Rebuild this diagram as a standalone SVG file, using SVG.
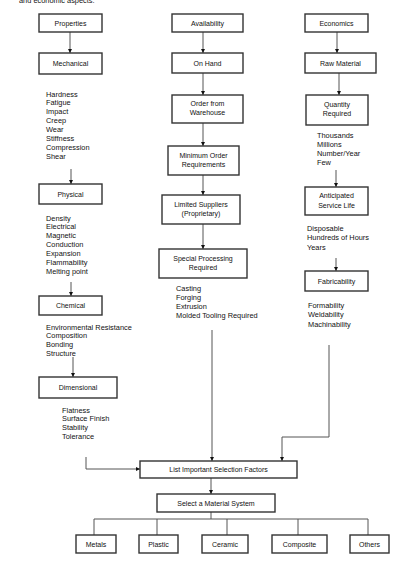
<svg xmlns="http://www.w3.org/2000/svg" width="406" height="562" viewBox="0 0 406 562">
<style>
.b{fill:#fff;stroke:#333;stroke-width:1.4}
.t{font-family:"Liberation Sans",Arial,sans-serif;font-size:7px;fill:#111;text-anchor:middle}
.l{font-family:"Liberation Sans",Arial,sans-serif;font-size:7.4px;fill:#111}
.c{fill:none;stroke:#555;stroke-width:1}
</style>
<defs>
<marker id="a" viewBox="0 0 6 6" refX="6" refY="3" markerWidth="4" markerHeight="4" orient="auto" markerUnits="userSpaceOnUse">
<path d="M0,0L6,3L0,6z" fill="#111"/>
</marker>
</defs>
<rect width="406" height="562" fill="#fff"/>
<text x="19" y="2.5" class="l" font-size="8">and economic aspects.</text>

<g id="connectors">
<path class="c" d="M70,32V53" marker-end="url(#a)"/>
<path class="c" d="M71,169V184" marker-end="url(#a)"/>
<path class="c" d="M71,282V296" marker-end="url(#a)"/>
<path class="c" d="M73,357V377" marker-end="url(#a)"/>
<path class="c" d="M203,32V53" marker-end="url(#a)"/>
<path class="c" d="M203,73V95" marker-end="url(#a)"/>
<path class="c" d="M203,123V146" marker-end="url(#a)"/>
<path class="c" d="M203,175V195" marker-end="url(#a)"/>
<path class="c" d="M203,224V249" marker-end="url(#a)"/>
<path class="c" d="M337,32V53" marker-end="url(#a)"/>
<path class="c" d="M339,73V95" marker-end="url(#a)"/>
<path class="c" d="M336,170V187" marker-end="url(#a)"/>
<path class="c" d="M336,258V271" marker-end="url(#a)"/>
<path class="c" d="M86,457V469H140" marker-end="url(#a)"/>
<path class="c" d="M212,330V461" marker-end="url(#a)"/>
<path class="c" d="M329,345V437H282V461" marker-end="url(#a)"/>
<path class="c" d="M211,478V494" marker-end="url(#a)"/>
<path class="c" d="M211,512V519M94,535V519H368V535M157,519V535M227,519V535M298,519V535"/>
</g>

<g id="properties"><rect class="b" x="39" y="14" width="63" height="18"/><text class="t" x="70.5" y="25.5">Properties</text></g>
<g id="mechanical"><rect class="b" x="39" y="53" width="63" height="21"/><text class="t" x="70.5" y="66">Mechanical</text></g>
<text class="l" x="46"><tspan x="46" y="96.5">Hardness</tspan><tspan x="46" y="105.4">Fatigue</tspan><tspan x="46" y="114.3">Impact</tspan><tspan x="46" y="123.2">Creep</tspan><tspan x="46" y="132.1">Wear</tspan><tspan x="46" y="141">Stiffness</tspan><tspan x="46" y="149.9">Compression</tspan><tspan x="46" y="158.8">Shear</tspan></text>
<g id="physical"><rect class="b" x="39" y="184" width="63" height="20"/><text class="t" x="70.5" y="196.5">Physical</text></g>
<text class="l"><tspan x="46" y="220.5">Density</tspan><tspan x="46" y="229.4">Electrical</tspan><tspan x="46" y="238.2">Magnetic</tspan><tspan x="46" y="247.1">Conduction</tspan><tspan x="46" y="255.9">Expansion</tspan><tspan x="46" y="264.8">Flammability</tspan><tspan x="46" y="273.6">Melting point</tspan></text>
<g id="chemical"><rect class="b" x="39" y="296" width="63" height="19"/><text class="t" x="70.5" y="308">Chemical</text></g>
<text class="l"><tspan x="46" y="329.5">Environmental Resistance</tspan><tspan x="46" y="338.2">Composition</tspan><tspan x="46" y="346.9">Bonding</tspan><tspan x="46" y="355.6">Structure</tspan></text>
<g id="dimensional"><rect class="b" x="39" y="377" width="78" height="21"/><text class="t" x="78" y="390">Dimensional</text></g>
<text class="l"><tspan x="62" y="412.5">Flatness</tspan><tspan x="62" y="421.2">Surface Finish</tspan><tspan x="62" y="429.9">Stability</tspan><tspan x="62" y="438.6">Tolerance</tspan></text>

<g id="availability"><rect class="b" x="172" y="14" width="71" height="18"/><text class="t" x="207.5" y="25.5">Availability</text></g>
<g id="onhand"><rect class="b" x="172" y="53" width="71" height="20"/><text class="t" x="207.5" y="65.5">On Hand</text></g>
<g id="warehouse"><rect class="b" x="172" y="95" width="71" height="28"/><text class="t" x="207.5" y="106">Order from</text><text class="t" x="207.5" y="115">Warehouse</text></g>
<g id="minorder"><rect class="b" x="168" y="146" width="71" height="29"/><text class="t" x="203.5" y="157.5">Minimum Order</text><text class="t" x="203.5" y="166.5">Requirements</text></g>
<g id="limited"><rect class="b" x="162" y="195" width="78" height="29"/><text class="t" x="201" y="206.5">Limited Suppliers</text><text class="t" x="201" y="215.5">(Proprietary)</text></g>
<g id="special"><rect class="b" x="159" y="249" width="88" height="29"/><text class="t" x="203" y="260.5">Special Processing</text><text class="t" x="203" y="269.5">Required</text></g>
<text class="l"><tspan x="176" y="290.5">Casting</tspan><tspan x="176" y="299.5">Forging</tspan><tspan x="176" y="308.5">Extrusion</tspan><tspan x="176" y="317.5">Molded Tooling Required</tspan></text>

<g id="economics"><rect class="b" x="305" y="14" width="63" height="18"/><text class="t" x="336.5" y="25.5">Economics</text></g>
<g id="rawmaterial"><rect class="b" x="305" y="53" width="71" height="20"/><text class="t" x="340.5" y="65.5">Raw Material</text></g>
<g id="quantity"><rect class="b" x="306" y="95" width="62" height="30"/><text class="t" x="337" y="106.5">Quantity</text><text class="t" x="337" y="115.5">Required</text></g>
<text class="l"><tspan x="317" y="137.5">Thousands</tspan><tspan x="317" y="146.8">Millions</tspan><tspan x="317" y="156.1">Number/Year</tspan><tspan x="317" y="165.4">Few</tspan></text>
<g id="servicelife"><rect class="b" x="305" y="187" width="63" height="28"/><text class="t" x="336.5" y="198">Anticipated</text><text class="t" x="336.5" y="207.5">Service Life</text></g>
<text class="l"><tspan x="307" y="230.5">Disposable</tspan><tspan x="307" y="240">Hundreds of Hours</tspan><tspan x="307" y="249.5">Years</tspan></text>
<g id="fabricability"><rect class="b" x="305" y="271" width="63" height="20"/><text class="t" x="336.5" y="283.5">Fabricability</text></g>
<text class="l"><tspan x="308" y="307.5">Formability</tspan><tspan x="308" y="317">Weldability</tspan><tspan x="308" y="326.5">Machinability</tspan></text>

<g id="listfactors"><rect class="b" x="140" y="461" width="157" height="17"/><text class="t" x="218.5" y="472">List Important Selection Factors</text></g>
<g id="selectsystem"><rect class="b" x="157" y="494" width="118" height="18"/><text class="t" x="216" y="505.5">Select a Material System</text></g>
<g id="metals"><rect class="b" x="76" y="535" width="40" height="18"/><text class="t" x="96" y="546.5">Metals</text></g>
<g id="plastic"><rect class="b" x="139" y="535" width="39" height="18"/><text class="t" x="158.5" y="546.5">Plastic</text></g>
<g id="ceramic"><rect class="b" x="202" y="535" width="46" height="18"/><text class="t" x="225" y="546.5">Ceramic</text></g>
<g id="composite"><rect class="b" x="272" y="535" width="55" height="18"/><text class="t" x="299.5" y="546.5">Composite</text></g>
<g id="others"><rect class="b" x="350" y="535" width="39" height="18"/><text class="t" x="369.5" y="546.5">Others</text></g>
</svg>
